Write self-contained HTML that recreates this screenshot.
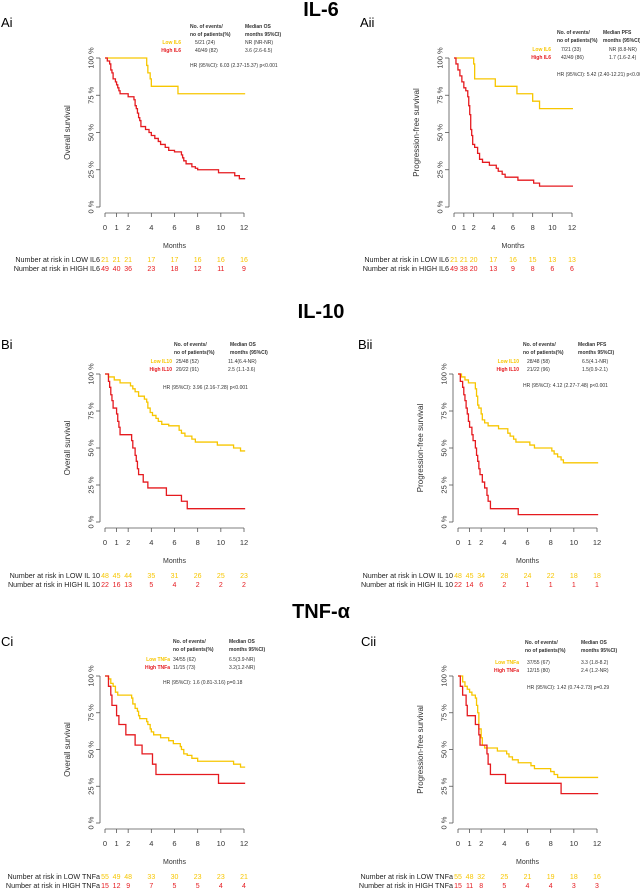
<!DOCTYPE html>
<html><head><meta charset="utf-8">
<style>
html,body{margin:0;padding:0;background:#fff;}
svg{display:block;font-family:"Liberation Sans",sans-serif;}
</style></head>
<body>
<svg id="fig" width="640" height="892" viewBox="0 0 640 892"></svg>
<script>
// ---- Data ----
const monthTicks=[0,1,2,4,6,8,10,12];
const yTicks=[0,25,50,75,100];
// Ai
const aiLowT=[3.6,3.7,3.9,4.0,6.3], aiLowS=[95,90,86,81,76];
const aiHighT=[0.2,0.4,0.5,0.6,0.7,0.9,1.0,1.1,1.2,1.3,2.0,2.5,2.6,2.7,2.8,2.9,3.0,3.1,3.5,3.8,4.0,4.3,4.6,4.8,5.2,5.5,6.0,6.6,6.7,6.8,7.0,7.5,7.8,8.0,9.8,11.2,11.6];
const aiHighS=[98,96,92,90,86,84,82,80,78,76,74,72,68,66,63,60,58,54,52,50,48,46,44,42,40,38,37,35,33,31,29,27,26,25,23,21,19];
const aiRiskLow=[21,21,21,17,17,16,16,16], aiRiskHigh=[49,40,36,23,18,12,11,9];
// Aii
const aiiLowT=[2.0,2.1,4.2,6.4,8.0,8.7], aiiLowS=[96,86,81,76,71,66];
const aiiHighT=[0.2,0.4,0.6,0.8,1.0,1.2,1.4,1.5,1.6,1.7,1.8,1.9,2.1,2.4,2.6,2.9,3.6,4.3,4.5,4.9,5.2,6.5,8.1,8.7];
const aiiHighS=[96,92,88,84,80,78,74,68,62,52,48,42,40,36,32,30,28,26,24,22,20,18,16,14];
const aiiRiskLow=[21,21,20,17,16,15,13,13], aiiRiskHigh=[49,38,20,13,9,8,6,6];
// Bi
const biLowT=[0.3,0.8,1.3,2.2,2.4,2.6,2.9,3.4,3.6,3.7,3.9,4.1,4.4,4.6,4.9,5.5,6.4,6.6,6.9,7.5,7.8,9.7,11.1,11.7];
const biLowS=[98,96,94,92,90,88,85,83,81,77,74,72,70,68,66,65,62,60,58,56,54,52,50,48];
const biHighT=[0.3,0.4,0.5,0.6,0.7,1.0,1.1,1.2,1.3,2.3,2.4,2.6,2.7,2.8,2.9,3.3,3.7,5.3,6.6,7.1];
const biHighS=[95,91,86,82,77,73,68,64,59,55,50,45,41,36,32,27,23,18,14,9];
const biRiskLow=[48,45,44,35,31,26,25,23], biRiskHigh=[22,16,13,5,4,2,2,2];
// Bii
const biiLowT=[0.3,0.6,0.9,1.5,1.6,1.7,1.8,2.0,2.1,2.3,2.6,3.5,4.3,4.5,4.8,5.0,6.2,6.6,8.1,8.3,8.6,8.9,9.1];
const biiLowS=[98,96,94,90,85,79,77,73,69,67,65,63,60,58,56,54,52,50,48,46,44,42,40];
const biiHighT=[0.2,0.4,0.5,0.6,0.7,0.8,0.9,1.0,1.2,1.3,1.5,1.6,1.7,1.8,1.9,2.1,2.3,2.5,2.6,2.8,5.2];
const biiHighS=[95,91,86,82,77,73,68,64,59,55,50,45,41,36,32,27,23,18,14,9,5];
const biiRiskLow=[48,45,34,28,24,22,18,18], biiRiskHigh=[22,14,6,2,1,1,1,1];
// Ci
const ciLowT=[0.3,0.5,0.7,0.9,1.1,2.3,2.4,2.6,2.8,2.9,3.0,3.6,3.7,3.9,4.0,4.2,4.8,5.5,5.9,6.5,6.6,6.8,7.1,7.5,8.0,11.1,11.7];
const ciLowS=[98,95,93,89,87,85,81,78,76,73,71,69,67,64,62,60,58,56,54,52,50,47,46,44,42,40,38];
const ciHighT=[0.3,0.5,0.6,1.0,1.2,1.8,2.6,3.2,4.1,4.4,9.8];
const ciHighS=[93,87,80,73,67,60,53,47,40,33,27];
const ciRiskLow=[55,49,48,33,30,23,23,21], ciRiskHigh=[15,12,9,7,5,5,4,4];
// Cii
const ciiLowT=[0.4,0.6,0.8,1.0,1.2,1.5,1.6,1.7,1.8,2.0,2.1,2.3,3.4,4.2,4.4,4.7,5.2,6.3,6.6,8.0,8.3,8.6];
const ciiLowS=[96,93,91,89,87,85,80,75,64,58,53,51,49,47,45,43,41,39,37,35,33,31];
const ciiHighT=[0.2,0.4,0.7,0.8,1.5,1.8,1.9,2.5,2.6,2.8,4.1,8.9];
const ciiHighS=[93,87,80,73,67,60,53,47,40,33,27,20];
const ciiRiskLow=[55,48,32,25,21,19,18,16], ciiRiskHigh=[15,11,8,5,4,4,3,3];

const YEL="#f7c600", RED="#e51a1f", GR="#555";
const svg=document.getElementById('fig');
const NS="http://www.w3.org/2000/svg";
function mk(tag,attrs,parent,text){const e=document.createElementNS(NS,tag);for(const k in attrs)e.setAttribute(k,attrs[k]);if(text!==undefined)e.textContent=text;(parent||svg).appendChild(e);return e;}

function panel(p){
  const g=mk('g',{},svg);
  
  
  const xs=t=>p.x0+(p.x12-p.x0)*t/12;
  const ys=s=>p.y0+(p.y100-p.y0)*s/100;
  const ya=mk('g',{},g);
  
  
  mk('line',{x1:p.ax,x2:p.ax,y1:ys(0),y2:ys(100),stroke:GR,'stroke-width':0.8},ya);
  yTicks.forEach(v=>{
    mk('line',{x1:p.ax-4,x2:p.ax,y1:ys(v),y2:ys(v),stroke:GR,'stroke-width':0.8},ya);
    const t=mk('text',{x:p.ax-9,y:ys(v),'font-size':7.5,fill:'#333','text-anchor':'middle',transform:`rotate(-90 ${p.ax-9} ${ys(v)})`,dy:2.5},ya,v+' %');
    
    
  });
  const yt=mk('text',{x:p.ax-30,y:(ys(0)+ys(100))/2,'font-size':8,fill:'#333','text-anchor':'middle',transform:`rotate(-90 ${p.ax-30} ${(ys(0)+ys(100))/2})`},g,p.ylab);
  
  
  const xa=mk('g',{},g);
  
  
  const xl=p.y0+6;
  mk('line',{x1:xs(0),x2:xs(12),y1:xl,y2:xl,stroke:GR,'stroke-width':0.8},xa);
  monthTicks.forEach(m=>{
    mk('line',{x1:xs(m),x2:xs(m),y1:xl,y2:xl+4,stroke:GR,'stroke-width':0.8},xa);
    const t=mk('text',{x:xs(m),y:xl+17,'font-size':7.5,fill:'#333','text-anchor':'middle'},xa,m);
    
    
  });
  const xt=mk('text',{x:(xs(0)+xs(12))/2,y:xl+35,'font-size':7,fill:'#333','text-anchor':'middle'},g,'Months');
  
  
  function curve(T,S,col,name){
    let d=`M${xs(0)},${ys(100)}`;
    T.forEach((t,i)=>{d+=` H${xs(t)} V${ys(S[i])}`;});
    d+=` H${xs(12.1)}`;
    const c=mk('path',{d:d,fill:'none',stroke:col,'stroke-width':1.3},g);
    
    
  }
  curve(p.lowT,p.lowS,YEL,'low-group-curve');
  curve(p.highT,p.highS,RED,'high-group-curve');
  const rx=p.x0-5;
  const rl=mk('text',{x:rx,y:p.r1,'font-size':7.2,fill:'#222','text-anchor':'end'},g,'Number at risk in LOW '+p.grp);
  
  
  const rh=mk('text',{x:rx,y:p.r1+9,'font-size':7.2,fill:'#222','text-anchor':'end'},g,'Number at risk in HIGH '+p.grp);
  
  
  monthTicks.forEach((m,i)=>{
    const a=mk('text',{x:xs(m),y:p.r1,'font-size':7,fill:YEL,'text-anchor':'middle'},g,p.rLow[i]);
    
    
    const b=mk('text',{x:xs(m),y:p.r1+9,'font-size':7,fill:RED,'text-anchor':'middle'},g,p.rHigh[i]);
    
    
  });
  const L=p.leg;
  const lg=mk('g',{'font-size':5,fill:'#333'},g);
  
  
  mk('text',{x:L.hx,y:L.hy,'font-weight':'bold'},lg,'No. of events/');
  mk('text',{x:L.hx,y:L.hy+8,'font-weight':'bold'},lg,'no of patients(%)');
  mk('text',{x:L.mx,y:L.hy,'font-weight':'bold'},lg,L.m1);
  mk('text',{x:L.mx,y:L.hy+8,'font-weight':'bold'},lg,L.m2);
  mk('text',{x:L.lx,y:L.ly,'text-anchor':'end',fill:YEL,'font-weight':'bold'},lg,L.lowName);
  mk('text',{x:L.lx,y:L.ly+8,'text-anchor':'end',fill:RED,'font-weight':'bold'},lg,L.highName);
  mk('text',{x:L.vx,y:L.ly},lg,L.lv1);mk('text',{x:L.mvx,y:L.ly},lg,L.lv2);
  mk('text',{x:L.vx,y:L.ly+8},lg,L.hv1);mk('text',{x:L.mvx,y:L.ly+8},lg,L.hv2);
  mk('text',{x:L.hrx,y:L.hry},lg,L.hr);
}

[['IL-6',321,16],['IL-10',321,318],['TNF-α',321,618]].forEach(a=>{
  const t=mk('text',{x:a[1],y:a[2],'font-size':20,'font-weight':'bold','text-anchor':'middle',fill:'#000'},svg,a[0]);
  
  
});
[['Ai',1,27],['Aii',360,27],['Bi',1,349],['Bii',358,349],['Ci',1,646],['Cii',361,646]].forEach(a=>{
  const t=mk('text',{x:a[1],y:a[2],'font-size':13,fill:'#000'},svg,a[0]);
  
  
});

panel({id:'ai',ax:100,x0:105,x12:244,y100:58,y0:207,ylab:'Overall survival',grp:'IL6',r1:262,
  lowT:aiLowT,lowS:aiLowS,highT:aiHighT,highS:aiHighS,rLow:aiRiskLow,rHigh:aiRiskHigh,
  leg:{hx:190,hy:28,mx:245,m1:'Median  OS',m2:'months  95%CI)',lx:181,ly:44,vx:195,mvx:245,
  lowName:'Low  IL6',highName:'High IL6',lv1:'5/21 (24)',lv2:'NR (NR-NR)',hv1:'40/49 (82)',hv2:'3.6 (2.6-6.5)',hrx:190,hry:67,hr:'HR (95%CI): 6.03 (2.37-15.37) p<0.001'}});
panel({id:'aii',ax:449,x0:454,x12:572,y100:58,y0:207,ylab:'Progression-free survival',grp:'IL6',r1:262,
  lowT:aiiLowT,lowS:aiiLowS,highT:aiiHighT,highS:aiiHighS,rLow:aiiRiskLow,rHigh:aiiRiskHigh,
  leg:{hx:557,hy:34,mx:603,m1:'Median PFS',m2:'months (95%CI)',lx:551,ly:51,vx:561,mvx:609,
  lowName:'Low  IL6',highName:'High IL6',lv1:'7/21 (33)',lv2:'NR (8.8-NR)',hv1:'42/49 (86)',hv2:'1.7 (1.6-2.4)',hrx:557,hry:76,hr:'HR (95%CI): 5.42 (2.40-12.21) p<0.001'}});
panel({id:'bi',ax:100,x0:105,x12:244,y100:374,y0:522,ylab:'Overall survival',grp:'IL 10',r1:578,
  lowT:biLowT,lowS:biLowS,highT:biHighT,highS:biHighS,rLow:biRiskLow,rHigh:biRiskHigh,
  leg:{hx:174,hy:346,mx:230,m1:'Median  OS',m2:'months  (95%CI)',lx:172,ly:363,vx:176,mvx:228,
  lowName:'Low  IL10',highName:'High IL10',lv1:'25/48 (52)',lv2:'11.4(6.4-NR)',hv1:'20/22 (91)',hv2:'  2.5 (1.1-3.6)',hrx:163,hry:389,hr:'HR (95%CI):   3.96 (2.16-7.28) p<0.001'}});
panel({id:'bii',ax:453,x0:458,x12:597,y100:374,y0:522,ylab:'Progression-free survival',grp:'IL 10',r1:578,
  lowT:biiLowT,lowS:biiLowS,highT:biiHighT,highS:biiHighS,rLow:biiRiskLow,rHigh:biiRiskHigh,
  leg:{hx:523,hy:346,mx:578,m1:'Median PFS',m2:'months   95%CI)',lx:519,ly:363,vx:527,mvx:582,
  lowName:'Low  IL10',highName:'High IL10',lv1:'28/48 (58)',lv2:'6.5(4.1-NR)',hv1:'21/22 (96)',hv2:'1.5(0.9-2.1)',hrx:523,hry:387,hr:'HR (95%CI):  4.12  (2.27-7.48)  p<0.001'}});
panel({id:'ci',ax:100,x0:105,x12:244,y100:676,y0:823,ylab:'Overall survival',grp:'TNFa',r1:879,
  lowT:ciLowT,lowS:ciLowS,highT:ciHighT,highS:ciHighS,rLow:ciRiskLow,rHigh:ciRiskHigh,
  leg:{hx:173,hy:643,mx:229,m1:'Median  OS',m2:'months  95%CI)',lx:170,ly:661,vx:173,mvx:229,
  lowName:'Low  TNFa',highName:'High TNFa',lv1:'34/55 (62)',lv2:'6.5(3.9-NR)',hv1:'11/15 (73)',hv2:'3.2(1.2-NR)',hrx:163,hry:684,hr:'HR (95%CI):   1.6  (0.81-3.16)  p=0.18'}});
panel({id:'cii',ax:453,x0:458,x12:597,y100:676,y0:823,ylab:'Progression-free survival',grp:'TNFa',r1:879,
  lowT:ciiLowT,lowS:ciiLowS,highT:ciiHighT,highS:ciiHighS,rLow:ciiRiskLow,rHigh:ciiRiskHigh,
  leg:{hx:525,hy:644,mx:581,m1:'Median  OS',m2:'months  95%CI)',lx:519,ly:664,vx:527,mvx:581,
  lowName:'Low  TNFa',highName:'High TNFa',lv1:'37/55 (67)',lv2:'3.3 (1.8-8.2)',hv1:'12/15 (80)',hv2:'2.4 (1.2-NR)',hrx:527,hry:689,hr:'HR (95%CI): 1.42  (0.74-2.73)  p=0.29'}});
</script>
</body></html>
